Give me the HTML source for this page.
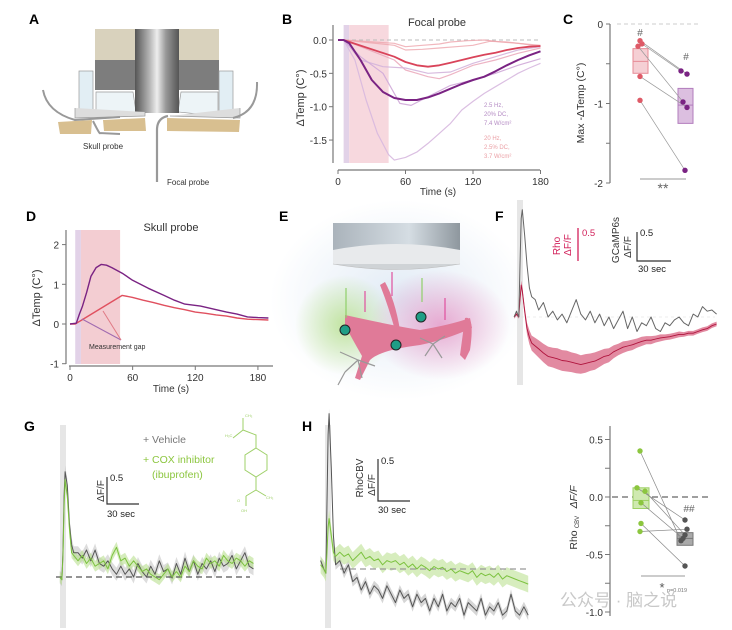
<!DOCTYPE html>
<html><head><meta charset="utf-8"><style>
html,body{margin:0;padding:0;background:#fff;}
svg{display:block;font-family:"Liberation Sans","Noto Sans CJK SC",sans-serif;}
</style></head><body>
<svg id="fig" width="732" height="630" viewBox="0 0 732 630" xmlns="http://www.w3.org/2000/svg">
<defs>
<linearGradient id="cyl" x1="0" x2="1"><stop offset="0" stop-color="#555"/><stop offset="0.35" stop-color="#bbb"/><stop offset="0.5" stop-color="#eee"/><stop offset="0.7" stop-color="#999"/><stop offset="1" stop-color="#555"/></linearGradient>
<linearGradient id="lens" x1="0" x2="1"><stop offset="0" stop-color="#aab3bb"/><stop offset="0.6" stop-color="#d5dde3"/><stop offset="1" stop-color="#8e979e"/></linearGradient>
<radialGradient id="gglow"><stop offset="0" stop-color="#b6e08a" stop-opacity="0.8"/><stop offset="1" stop-color="#b6e08a" stop-opacity="0"/></radialGradient>
<radialGradient id="pglow"><stop offset="0" stop-color="#e58ac0" stop-opacity="0.7"/><stop offset="1" stop-color="#e58ac0" stop-opacity="0"/></radialGradient>
<radialGradient id="bglow"><stop offset="0" stop-color="#dde8f4" stop-opacity="0.9"/><stop offset="1" stop-color="#dde8f4" stop-opacity="0"/></radialGradient>
</defs>

<g font-weight="bold" font-size="14" fill="#000">
<text x="29" y="24">A</text>
<text x="282" y="24">B</text>
<text x="563" y="24">C</text>
<text x="26" y="221">D</text>
<text x="279" y="221">E</text>
<text x="495" y="221">F</text>
<text x="24" y="431">G</text>
<text x="302" y="431">H</text>
</g>

<g>
<rect x="95" y="29" width="124" height="31" fill="#d9d2bd"/>
<rect x="95" y="60" width="124" height="30" fill="#7d7d7d"/>
<rect x="79" y="71" width="14" height="40" fill="#e2eef4" stroke="#999" stroke-width="0.7"/>
<rect x="219" y="71" width="14" height="40" fill="#e2eef4" stroke="#999" stroke-width="0.7"/>
<path d="M96 92 L133 92 L136 112 L96 116 Z" fill="#edf4f7" stroke="#999" stroke-width="0.7"/>
<path d="M181 92 L218 92 L218 116 L178 112 Z" fill="#edf4f7" stroke="#999" stroke-width="0.7"/>
<rect x="135" y="29" width="44" height="84" fill="url(#cyl)"/>
<path d="M75 108 L75 118 L145 116 L145 112" fill="#ddd" stroke="#999" stroke-width="0.7"/>
<path d="M170 116 L240 118 L240 108" fill="#ddd" stroke="#999" stroke-width="0.7"/>
<path d="M58 122 L92 120 L91 134 L60 134 Z" fill="#d8bf90"/>
<path d="M103 120 L145 118 L146 131 L104 131 Z" fill="#d8bf90"/>
<path d="M167 118 L240 120 L239 132 L167 131 Z" fill="#d8bf90"/>
<path d="M43 90 Q47 112 75 120 L120 117" fill="none" stroke="#999" stroke-width="2"/>
<path d="M257 82 Q258 112 233 118" fill="none" stroke="#999" stroke-width="2"/>
<path d="M93 121 Q100 135 100 133 L120 134" fill="none" stroke="#999" stroke-width="2"/>
<path d="M168 116 Q157 118 157 130 L157 182" fill="none" stroke="#999" stroke-width="2.2"/>
<text x="83" y="149" font-size="8" fill="#333">Skull probe</text>
<text x="167" y="185" font-size="8" fill="#333">Focal probe</text>
</g>

<g id="panelB"></g>
<g id="panelC"></g>
<g id="panelD"></g>

<g>
<ellipse cx="400" cy="300" rx="130" ry="100" fill="url(#bglow)"/>
<ellipse cx="345" cy="325" rx="50" ry="50" fill="url(#gglow)"/>
<ellipse cx="440" cy="325" rx="70" ry="55" fill="url(#pglow)"/>
<rect x="333" y="223" width="127" height="27" fill="url(#lens)"/>
<path d="M333 250 Q396 238 460 250 L460 264 L333 264 Z" fill="#e8eaec"/>
<path d="M333 264 Q396 275 460 264" fill="#cfd3d6" stroke="#bbb" stroke-width="0.6"/>
<path d="M345 315 Q390 325 420 330 Q450 325 470 318 L472 328 Q445 340 420 345 Q380 350 370 360 L360 380 L355 378 L362 356 Q350 335 345 325 Z" fill="#e07a98"/>
<path d="M385 282 Q395 300 400 330 L395 330 Q388 305 380 285 Z" fill="#e07a98"/>
<path d="M465 318 Q475 315 470 350 L465 360 L460 355 Z" fill="#e07a98"/>
<g stroke="#999" stroke-width="1.2" fill="none"><path d="M358 360 L340 352 M358 360 L345 372 M358 360 L375 366 M358 360 L362 378 M345 372 L338 385"/><path d="M433 344 L445 336 M433 344 L425 356 M433 344 L442 358 M433 344 L420 338"/></g>
<g fill="#1f9e86" stroke="#222" stroke-width="1"><circle cx="345" cy="330" r="5"/><circle cx="396" cy="345" r="5"/><circle cx="421" cy="317" r="5"/></g>
<g stroke-width="1.2"><line x1="346" y1="318" x2="346" y2="288" stroke="#8fcf6a"/><line x1="365" y1="312" x2="365" y2="291" stroke="#e0509e"/><line x1="392" y1="296" x2="392" y2="272" stroke="#e0509e"/><line x1="422" y1="302" x2="422" y2="278" stroke="#8fcf6a"/><line x1="445" y1="320" x2="445" y2="298" stroke="#e0509e"/></g>
</g>

<g id="panelF"></g>
<g id="panelG"></g>
<g id="panelH"></g>
<g id="panelH2"></g>

<g stroke="#9fd06a" stroke-width="1" fill="none">
<path d="M243 418 L243 430 L233 438 M243 430 L256 435 L256 448"/>
<polygon points="256,448 267,455 267,470 256,477 245,470 245,455"/>
<path d="M256 477 L256 490 L246 496 M256 490 L266 496 M246 496 L246 506"/>
</g>
<g font-size="4" fill="#9fd06a"><text x="245" y="417">CH₃</text><text x="225" y="437">H₃C</text><text x="266" y="499">CH₃</text><text x="237" y="502">O</text><text x="241" y="512">OH</text></g>

<text x="560" y="606" font-size="17" fill="#c8c8c8">公众号 · 脑之说</text>
</svg>

<script>
// ===== Panel B data =====
const bTicksX=[0,60,120,180];
const bTicksY=[0.0,-0.5,-1.0,-1.5];
const bBandPurple=[5,10];
const bBandPink=[10,45];
const bPurpleT=[0,5,10,20,30,40,50,60,70,80,90,100,110,120,130,140,150,160,170,180];
const bPurpleV=[0,0,-0.05,-0.3,-0.6,-0.78,-0.87,-0.9,-0.9,-0.86,-0.8,-0.73,-0.66,-0.6,-0.55,-0.47,-0.38,-0.3,-0.23,-0.17];
const bRedT=[0,5,50,60,70,80,90,100,110,120,130,140,150,160,170,180];
const bRedV=[0,0,-0.25,-0.33,-0.38,-0.4,-0.38,-0.34,-0.3,-0.26,-0.22,-0.19,-0.15,-0.12,-0.1,-0.09];
const bLightPurple1T=[0,5,15,25,35,45,50,60,70,80,90,100,110,120,130,140,150,160,170,180];
const bLightPurple1V=[0,0,-0.3,-0.9,-1.4,-1.72,-1.8,-1.76,-1.68,-1.55,-1.4,-1.25,-1.05,-0.92,-0.8,-0.7,-0.6,-0.5,-0.42,-0.35];
const bLightPurple2T=[0,5,20,40,55,65,80,100,120,140,160,180];
const bLightPurple2V=[0,0,-0.25,-0.5,-0.95,-0.98,-0.85,-0.68,-0.6,-0.5,-0.38,-0.28];
const bLightPurple3T=[0,5,20,40,60,80,100,120,140,160,180];
const bLightPurple3V=[0,0,-0.3,-0.4,-0.42,-0.5,-0.48,-0.35,-0.25,-0.15,-0.1];
const bPink1T=[0,5,50,60,75,90,100,115,130,145,160,180];
const bPink1V=[0,0,-0.05,-0.1,-0.08,-0.06,-0.03,-0.01,0,-0.03,-0.05,-0.08];
const bPink2T=[0,5,50,60,75,90,105,120,135,150,165,180];
const bPink2V=[0,0,-0.08,-0.15,-0.14,-0.12,-0.1,-0.08,-0.02,-0.03,-0.06,-0.1];
const bPink3T=[0,5,50,60,70,80,90,100,110,120,140,160,180];
const bPink3V=[0,0,-0.3,-0.45,-0.5,-0.55,-0.58,-0.52,-0.45,-0.38,-0.3,-0.2,-0.12];

// ===== Panel C data =====
const cTicksY=[0,-0.5,-1,-1.5,-2];
const cRedVals=[-0.21,-0.25,-0.28,-0.66,-0.96];
const cPurpleVals=[-0.59,-0.63,-0.98,-1.05,-1.84];
const cPairs=[[0,1],[1,0],[2,2],[3,3],[4,4]];
const cRedBox=[-0.31,-0.47,-0.62];
const cPurpleBox=[-0.81,-1.02,-1.25];

// ===== Panel D data =====
const dTicksX=[0,60,120,180];
const dTicksY=[2,1,0,-1];
const dBandPurple=[5,10.5];
const dBandPink=[10.5,48];
const dPurpleT=[0,6,9,12,16,20,25,30,35,40,50,60,75,90,100,110,125,140,150,160,170,180,190];
const dPurpleV=[0,0.02,0.25,0.45,0.8,1.2,1.42,1.5,1.48,1.42,1.28,1.1,0.9,0.72,0.6,0.5,0.45,0.36,0.3,0.25,0.18,0.16,0.15];
const dRedT=[0,5,50,60,70,80,90,100,110,120,130,140,150,160,170,180,190];
const dRedV=[0,0,0.72,0.67,0.6,0.54,0.47,0.41,0.36,0.3,0.27,0.23,0.2,0.15,0.12,0.11,0.1];

// ===== Panel F data =====
const fT=[-5,-3,-1,0,1,2,4,6,8,10,13,16,20,24,28,32,36,40,44,48,52,56,60,64,68,72,76,80,84,88,92,96,100,104,108,112,116,120,124,128,132,136,140,144,148,152,156,160,164,168];
const fGray=[0,0.1,0,0.9,1.7,1.85,1.4,0.9,0.5,0.35,0.3,0.12,0.25,0.0,0.1,-0.05,0.05,-0.1,0.1,0.3,0.05,-0.05,0.1,-0.1,0.05,-0.15,0.0,-0.2,-0.05,0.1,-0.2,0.0,-0.25,-0.1,-0.15,0.0,-0.2,-0.25,-0.1,-0.15,-0.05,0.0,-0.1,-0.15,0.05,0.0,0.18,0.1,0.12,0.05];
const fPink=[0,0.05,0,0.3,0.55,0.45,0.1,-0.2,-0.35,-0.45,-0.5,-0.55,-0.62,-0.68,-0.7,-0.72,-0.75,-0.76,-0.78,-0.8,-0.82,-0.8,-0.78,-0.76,-0.72,-0.68,-0.66,-0.6,-0.56,-0.52,-0.5,-0.48,-0.45,-0.42,-0.4,-0.4,-0.38,-0.36,-0.35,-0.34,-0.32,-0.3,-0.3,-0.28,-0.28,-0.25,-0.22,-0.2,-0.15,-0.12];
const fPinkErr=[0.03,0.03,0.03,0.05,0.08,0.08,0.08,0.1,0.12,0.13,0.14,0.15,0.16,0.17,0.17,0.18,0.18,0.18,0.17,0.17,0.16,0.16,0.15,0.15,0.14,0.13,0.12,0.11,0.1,0.1,0.09,0.09,0.08,0.08,0.07,0.07,0.06,0.06,0.05,0.05,0.05,0.05,0.04,0.04,0.04,0.04,0.04,0.04,0.04,0.04];

// ===== Panel G data =====
const gT=[-3,-1,0,1,2,4,6,8,10,14,18,22,26,30,34,38,42,46,50,54,58,62,66,70,74,78,82,86,90,94,98,102,106,110,114,118,122,126,130,134,138,142,146,150,154,158,162,166,170,174,178];
const gGray=[0,-0.05,0.5,1.5,1.95,1.7,1.0,0.6,0.45,0.45,0.35,0.5,0.3,0.5,0.25,0.2,0.3,0.15,0.05,0.2,0.05,0.15,0.0,0.25,0.1,0.0,0.2,0.05,0.3,0.1,0.15,-0.02,0.25,0.05,0.35,0.1,0.3,0.05,0.25,0.15,0.3,0.1,0.35,0.2,0.25,0.4,0.15,0.3,0.45,0.2,0.15];
const gGreen=[0,-0.05,0.4,1.3,1.8,1.5,0.9,0.45,0.4,0.3,0.4,0.25,0.35,0.2,0.25,0.3,0.15,0.4,0.55,0.3,0.35,0.2,0.3,0.2,0.1,0.15,0.05,0.0,-0.05,0.05,0.15,0.0,0.1,0.0,0.2,0.1,0.3,0.2,0.15,0.35,0.25,0.3,0.2,0.4,0.3,0.25,0.35,0.3,0.2,0.3,0.25];

// ===== Panel H data =====
const hT=[-6,-3,-1,0,1,2,4,6,8,12,16,20,24,28,32,36,40,44,48,52,56,60,64,68,72,76,80,84,88,92,96,100,104,108,112,116,120,124,128,132,136,140,144,148,152,156,160,164,168,172,176,180,184,188];
const hGray=[0.1,0,-0.05,0.8,1.6,1.85,1.2,0.4,0.05,0.1,-0.05,0.05,-0.15,-0.1,-0.25,-0.15,-0.3,-0.2,-0.25,-0.35,-0.2,-0.3,-0.4,-0.25,-0.35,-0.3,-0.45,-0.3,-0.4,-0.35,-0.5,-0.35,-0.45,-0.3,-0.5,-0.4,-0.45,-0.35,-0.55,-0.4,-0.45,-0.5,-0.35,-0.55,-0.45,-0.5,-0.4,-0.55,-0.5,-0.3,-0.5,-0.55,-0.45,-0.55];
const hGreen=[0.05,0,-0.05,0.2,0.5,0.6,0.4,0.2,0.15,0.2,0.15,0.18,0.1,0.15,0.2,0.12,0.15,0.1,0.12,0.05,0.1,0.08,0.1,0.05,0.08,0.02,0.06,0.0,0.05,0.02,-0.02,0.03,0.0,0.02,-0.03,0.0,-0.05,-0.02,-0.04,-0.06,-0.02,-0.1,-0.05,-0.08,-0.06,-0.1,-0.05,-0.12,-0.08,-0.1,-0.12,-0.14,-0.16,-0.18];

// ===== Panel H summary data =====
const h2TicksY=[0.5,0.25,0,-0.25,-0.5,-0.75,-1.0];
const h2TickLabels=["0.5","","0.0","","-0.5","","-1.0"];
const h2Green=[0.40,0.08,0.05,-0.05,-0.23,-0.30];
const h2Gray=[-0.38,-0.20,-0.33,-0.36,-0.60,-0.28];
const h2GreenBox=[0.08,-0.03,-0.1];
const h2GrayBox=[-0.31,-0.36,-0.42];

const NS="http://www.w3.org/2000/svg";
function mk(parent,tag,attrs){const e=document.createElementNS(NS,tag);for(const k in attrs)e.setAttribute(k,attrs[k]);parent.appendChild(e);return e;}
function txt(parent,x,y,s,attrs){const e=mk(parent,'text',Object.assign({x:x,y:y},attrs||{}));e.textContent=s;return e;}
function pts(ts,vs,sx,sy){return ts.map((t,i)=>sx(t).toFixed(1)+','+sy(vs[i]).toFixed(1)).join(' ');}
function line(g,ts,vs,sx,sy,color,w,op,name){const e=mk(g,'polyline',{points:pts(ts,vs,sx,sy),fill:'none',stroke:color,'stroke-width':w,opacity:op,'stroke-linejoin':'round'});

return e;}
function band(g,ts,vs,err,sx,sy,color,op,name){const up=ts.map((t,i)=>sx(t).toFixed(1)+','+sy(vs[i]+err[i]).toFixed(1));const dn=ts.map((t,i)=>sx(t).toFixed(1)+','+sy(vs[i]-err[i]).toFixed(1)).reverse();
const e=mk(g,'polygon',{points:up.concat(dn).join(' '),fill:color,opacity:op});

}
function constErr(vs,e){return vs.map(()=>e);}

// ---- Panel B ----
(function(){const g=document.getElementById('panelB');
const sx=t=>338+t*1.125, sy=v=>40-v*66.7;
let r=mk(g,'rect',{x:sx(bBandPurple[0]),y:25,width:sx(bBandPurple[1])-sx(bBandPurple[0]),height:138,fill:'#e2d2e8'});

r=mk(g,'rect',{x:sx(bBandPink[0]),y:25,width:sx(bBandPink[1])-sx(bBandPink[0]),height:138,fill:'#f7d8de'});

mk(g,'line',{x1:338,x2:540,y1:sy(0),y2:sy(0),stroke:'#bbb','stroke-dasharray':'4,3','stroke-width':1});
line(g,bPink1T,bPink1V,sx,sy,'#eea5ad',1.2,0.8,'trace-pink-1');
line(g,bPink2T,bPink2V,sx,sy,'#eea5ad',1.2,0.8,'trace-pink-2');
line(g,bPink3T,bPink3V,sx,sy,'#e9a1b5',1.2,0.8,'trace-pink-3');
line(g,bLightPurple3T,bLightPurple3V,sx,sy,'#d4b4dc',1.2,0.9,'trace-lightpurple-3');
line(g,bLightPurple2T,bLightPurple2V,sx,sy,'#cfa8d8',1.2,0.9,'trace-lightpurple-2');
line(g,bLightPurple1T,bLightPurple1V,sx,sy,'#d7b8df',1.2,0.9,'trace-lightpurple-1');
line(g,bRedT,bRedV,sx,sy,'#d9445a',1.8,1,'trace-red-mean');
line(g,bPurpleT,bPurpleV,sx,sy,'#7a2383',2,1,'trace-purple-mean');
mk(g,'line',{x1:333,x2:333,y1:25,y2:163,stroke:'#777','stroke-width':1.2});
mk(g,'line',{x1:338,x2:540,y1:170,y2:170,stroke:'#777','stroke-width':1.2});
bTicksY.forEach(v=>{mk(g,'line',{x1:329,x2:333,y1:sy(v),y2:sy(v),stroke:'#777'});txt(g,327,sy(v)+4,v.toFixed(1),{'font-size':10,'text-anchor':'end',fill:'#333'});});
bTicksX.forEach(t=>{mk(g,'line',{x1:sx(t),x2:sx(t),y1:170,y2:174,stroke:'#777'});txt(g,sx(t),185,String(t),{'font-size':10,'text-anchor':'middle',fill:'#333'});});
txt(g,438,195,'Time (s)',{'font-size':10,'text-anchor':'middle',fill:'#333'});
txt(g,437,26,'Focal probe',{'font-size':11,'text-anchor':'middle',fill:'#333'});
txt(g,0,0,'ΔTemp (C°)',{'font-size':11,'text-anchor':'middle',fill:'#333',transform:'translate(304,98) rotate(-90)'});
[['2.5 Hz,',107],['20% DC,',116],['7.4 W/cm²',125]].forEach(a=>txt(g,484,a[1],a[0],{'font-size':6,fill:'#b58cc4'}));
[['20 Hz,',140],['2.5% DC,',149],['3.7 W/cm²',158]].forEach(a=>txt(g,484,a[1],a[0],{'font-size':6,fill:'#eba0a6'}));
})();

// ---- Panel C ----
(function(){const g=document.getElementById('panelC');
const sy=v=>24-v*79.5;
mk(g,'line',{x1:617,x2:700,y1:sy(0),y2:sy(0),stroke:'#ccc','stroke-dasharray':'4,3'});
mk(g,'line',{x1:610,x2:610,y1:sy(0),y2:sy(-2),stroke:'#777','stroke-width':1.2});
cTicksY.forEach(v=>{mk(g,'line',{x1:606,x2:610,y1:sy(v),y2:sy(v),stroke:'#777'});if(Number.isInteger(v))txt(g,603,sy(v)+4,String(v),{'font-size':10,'text-anchor':'end',fill:'#333'});});
txt(g,0,0,'Max -ΔTemp (C°)',{'font-size':10.5,'text-anchor':'middle',fill:'#333',transform:'translate(584,103) rotate(-90)'});
function box(x,w,b,fill,stroke,name){const r=mk(g,'rect',{x:x,y:sy(b[0]),width:w,height:sy(b[2])-sy(b[0]),fill:fill,stroke:stroke,'stroke-width':1});

mk(g,'line',{x1:x,x2:x+w,y1:sy(b[1]),y2:sy(b[1]),stroke:stroke});}
box(633,15,cRedBox,'#f5cfd4','#e78b96','box-red');
box(678,15,cPurpleBox,'#dcbfe0','#b27cbd','box-purple');
const rx=[640,642,638,640,640], px=[681,687,683,687,685];
cPairs.forEach((p,i)=>mk(g,'line',{x1:rx[p[0]],y1:sy(cRedVals[p[0]]),x2:px[p[1]],y2:sy(cPurpleVals[p[1]]),stroke:'#999','stroke-width':0.7}));
cRedVals.forEach((v,i)=>{const c=mk(g,'circle',{cx:rx[i],cy:sy(v),r:2.7,fill:'#de5a67'});});
cPurpleVals.forEach((v,i)=>{const c=mk(g,'circle',{cx:px[i],cy:sy(v),r:2.7,fill:'#7a2383'});});
txt(g,640,36,'#',{'font-size':10,'text-anchor':'middle',fill:'#666'});
txt(g,686,60,'#',{'font-size':10,'text-anchor':'middle',fill:'#666'});
mk(g,'line',{x1:640,x2:686,y1:179,y2:179,stroke:'#999','stroke-width':1});
txt(g,663,193,'**',{'font-size':14,'text-anchor':'middle',fill:'#666'});
})();

// ---- Panel D ----
(function(){const g=document.getElementById('panelD');
const sx=t=>70+t*1.044, sy=v=>324-v*39.7;
let r=mk(g,'rect',{x:sx(dBandPurple[0]),y:230,width:sx(dBandPurple[1])-sx(dBandPurple[0]),height:134,fill:'#e2d2e8'});

r=mk(g,'rect',{x:sx(dBandPink[0]),y:230,width:sx(dBandPink[1])-sx(dBandPink[0]),height:134,fill:'#f3cdd2'});

line(g,dRedT,dRedV,sx,sy,'#e0505f',1.4,1,'trace-red');
line(g,dPurpleT,dPurpleV,sx,sy,'#7a2383',1.4,1,'trace-purple');
mk(g,'line',{x1:66,x2:66,y1:230,y2:364,stroke:'#777','stroke-width':1.2});
mk(g,'line',{x1:69,x2:273,y1:366,y2:366,stroke:'#777','stroke-width':1.2});
dTicksY.forEach(v=>{mk(g,'line',{x1:62,x2:66,y1:sy(v),y2:sy(v),stroke:'#777'});txt(g,59,sy(v)+4,String(v),{'font-size':10,'text-anchor':'end',fill:'#333'});});
dTicksX.forEach(t=>{mk(g,'line',{x1:sx(t),x2:sx(t),y1:366,y2:370,stroke:'#777'});txt(g,sx(t),381,String(t),{'font-size':10,'text-anchor':'middle',fill:'#333'});});
txt(g,171,392,'Time (s)',{'font-size':10,'text-anchor':'middle',fill:'#333'});
txt(g,171,231,'Skull probe',{'font-size':11,'text-anchor':'middle',fill:'#333'});
txt(g,0,0,'ΔTemp (C°)',{'font-size':11,'text-anchor':'middle',fill:'#333',transform:'translate(40,298) rotate(-90)'});
mk(g,'line',{x1:121,y1:340,x2:82,y2:319,stroke:'#a06ab0','stroke-width':1});
mk(g,'line',{x1:121,y1:340,x2:103,y2:311,stroke:'#e07a85','stroke-width':1});
txt(g,89,349,'Measurement gap',{'font-size':7,fill:'#333'});
})();

// ---- Panel F ----
(function(){const g=document.getElementById('panelF');
const sx=t=>520+t*1.17, sy=v=>317-v*58;
let r=mk(g,'rect',{x:517,y:200,width:6,height:185,fill:'#e6e6e6'});

mk(g,'line',{x1:515,x2:715,y1:317,y2:317,stroke:'#ddd','stroke-dasharray':'3,3','stroke-width':0.6});
band(g,fT,fPink,fPinkErr,sx,sy,'#df7d97',0.9,'rho-error-band');
line(g,fT,fPink,sx,sy,'#b0153e',0.9,1,'rho-trace');
line(g,fT,fGray,sx,sy,'#666',1,1,'gcamp-trace');
mk(g,'line',{x1:578,x2:578,y1:228,y2:261,stroke:'#d2205a','stroke-width':1.3});
txt(g,582,236,'0.5',{'font-size':9.5,fill:'#d2205a'});
txt(g,0,0,'Rho',{'font-size':10,fill:'#d2205a','text-anchor':'middle',transform:'translate(560,246) rotate(-90)'});
txt(g,0,0,'ΔF/F',{'font-size':10,fill:'#d2205a','text-anchor':'middle',transform:'translate(571,245) rotate(-90)'});
mk(g,'polyline',{points:'637,232 637,261 671,261',fill:'none',stroke:'#333','stroke-width':1.2});
txt(g,640,236,'0.5',{'font-size':9.5,fill:'#222'});
txt(g,638,272,'30 sec',{'font-size':9.5,fill:'#222'});
txt(g,0,0,'GCaMP6s',{'font-size':10,fill:'#333','text-anchor':'middle',transform:'translate(619,240) rotate(-90)'});
txt(g,0,0,'ΔF/F',{'font-size':10,fill:'#333','text-anchor':'middle',transform:'translate(631,247) rotate(-90)'});
})();

// ---- Panel G ----
(function(){const g=document.getElementById('panelG');
const sx=t=>63+t*1.07, sy=v=>577-v*54;
let r=mk(g,'rect',{x:60,y:425,width:6,height:203,fill:'#e6e6e6'});

band(g,gT,gGray,constErr(gGray,0.12),sx,sy,'#bbb',0.5,'vehicle-error-band');
band(g,gT,gGreen,constErr(gGreen,0.1),sx,sy,'#b9e08f',0.6,'cox-error-band');
mk(g,'line',{x1:56,x2:250,y1:577,y2:577,stroke:'#555','stroke-dasharray':'6,4','stroke-width':1.2});
line(g,gT,gGray,sx,sy,'#555',1,1,'vehicle-trace');
line(g,gT,gGreen,sx,sy,'#7cc23f',1,1,'cox-trace');
txt(g,143,443,'+ Vehicle',{'font-size':10.5,fill:'#777'});
txt(g,143,463,'+ COX inhibitor',{'font-size':10.5,fill:'#8cc63f'});
txt(g,152,478,'(ibuprofen)',{'font-size':10.5,fill:'#8cc63f'});
mk(g,'polyline',{points:'107,477 107,504 139,504',fill:'none',stroke:'#333','stroke-width':1.2});
txt(g,110,481,'0.5',{'font-size':9.5,fill:'#222'});
txt(g,107,517,'30 sec',{'font-size':9.5,fill:'#222'});
txt(g,0,0,'ΔF/F',{'font-size':10,fill:'#333','text-anchor':'middle',transform:'translate(104,491) rotate(-90)'});
})();

// ---- Panel H ----
(function(){const g=document.getElementById('panelH');
const sx=t=>327+t*1.07, sy=v=>569-v*84;
let r=mk(g,'rect',{x:325,y:425,width:6,height:203,fill:'#e6e6e6'});

band(g,hT,hGray,constErr(hGray,0.06),sx,sy,'#bbb',0.6,'vehicle-error-band');
band(g,hT,hGreen,constErr(hGreen,0.1),sx,sy,'#c6e6a3',0.7,'cox-error-band');
mk(g,'line',{x1:340,x2:530,y1:569,y2:569,stroke:'#999','stroke-dasharray':'6,4','stroke-width':1.2});
line(g,hT,hGray,sx,sy,'#555',1,1,'vehicle-trace');
line(g,hT,hGreen,sx,sy,'#7cc23f',1,1,'cox-trace');
mk(g,'polyline',{points:'378,459 378,501 410,501',fill:'none',stroke:'#333','stroke-width':1.2});
txt(g,381,464,'0.5',{'font-size':9.5,fill:'#222'});
txt(g,378,513,'30 sec',{'font-size':9.5,fill:'#222'});
txt(g,0,0,'RhoCBV',{'font-size':10,fill:'#333','text-anchor':'middle',transform:'translate(363,478) rotate(-90)'});
txt(g,0,0,'ΔF/F',{'font-size':10,fill:'#333','text-anchor':'middle',transform:'translate(375,485) rotate(-90)'});
})();

// ---- Panel H summary ----
(function(){const g=document.getElementById('panelH2');
const sy=v=>497-v*115;
mk(g,'line',{x1:610,x2:610,y1:426,y2:616,stroke:'#777','stroke-width':1.2});
h2TicksY.forEach((v,i)=>{mk(g,'line',{x1:605,x2:610,y1:sy(v),y2:sy(v),stroke:'#777'});if(h2TickLabels[i])txt(g,603,sy(v)+4,h2TickLabels[i],{'font-size':10,'text-anchor':'end',fill:'#333'});});
mk(g,'line',{x1:612,x2:712,y1:sy(0),y2:sy(0),stroke:'#666','stroke-dasharray':'6,4','stroke-width':1.2});
txt(g,0,0,'Rho',{'font-size':10.5,fill:'#333','text-anchor':'middle',transform:'translate(577,540) rotate(-90)'});
txt(g,0,0,'CBV',{'font-size':6,fill:'#333','text-anchor':'middle',transform:'translate(579,522) rotate(-90)'});
txt(g,0,0,'ΔF/F',{'font-size':10.5,'font-style':'italic',fill:'#333','text-anchor':'middle',transform:'translate(577,497) rotate(-90)'});
function box(x,w,b,fill,stroke,name){const r=mk(g,'rect',{x:x,y:sy(b[0]),width:w,height:sy(b[2])-sy(b[0]),fill:fill,stroke:stroke,'stroke-width':1});

mk(g,'line',{x1:x,x2:x+w,y1:sy(b[1]),y2:sy(b[1]),stroke:stroke});}
box(633,16,h2GreenBox,'#cfe9b0','#9ed065','box-cox');
box(677,16,h2GrayBox,'#aaa','#777','box-vehicle');
const gx=[640,637,645,641,641,640], kx=[681,685,685,683,685,687];
h2Green.forEach((v,i)=>mk(g,'line',{x1:gx[i],y1:sy(v),x2:kx[i],y2:sy(h2Gray[i]),stroke:'#888','stroke-width':0.7}));
h2Green.forEach((v,i)=>{const c=mk(g,'circle',{cx:gx[i],cy:sy(v),r:2.7,fill:'#8cc63f'});});
h2Gray.forEach((v,i)=>{const c=mk(g,'circle',{cx:kx[i],cy:sy(h2Gray[i]),r:2.7,fill:'#555'});});
txt(g,689,512,'##',{'font-size':10,'text-anchor':'middle',fill:'#666'});
mk(g,'line',{x1:641,x2:685,y1:576,y2:576,stroke:'#999','stroke-width':1});
txt(g,662,592,'*',{'font-size':13,'text-anchor':'middle',fill:'#555'});
txt(g,667,592,'p=0.019',{'font-size':5.5,fill:'#777'});
})();
</script>
</body></html>
